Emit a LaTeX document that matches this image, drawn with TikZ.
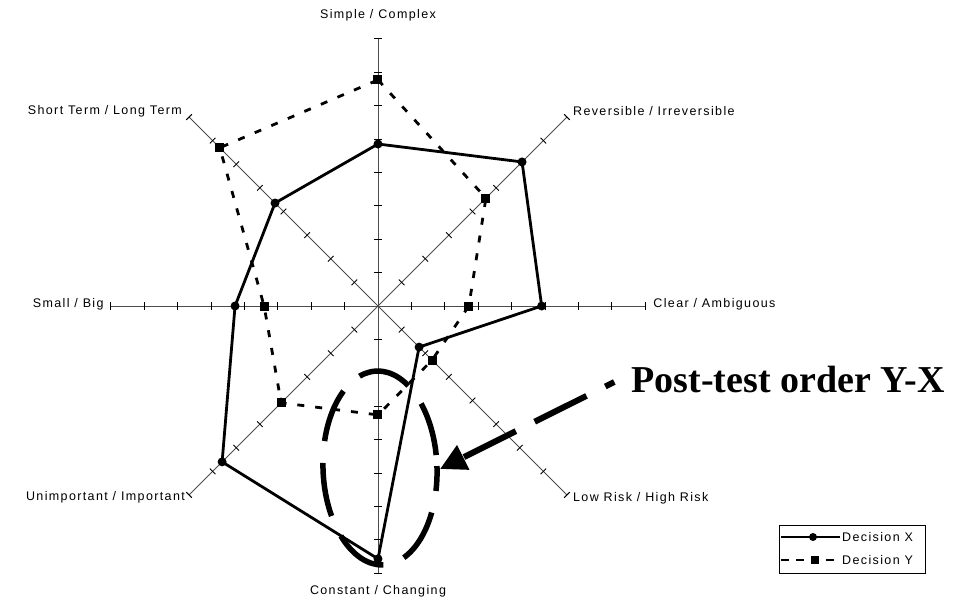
\documentclass[tikz,border=0pt]{standalone}
\usepackage{fontspec}
\setmainfont{Liberation Serif}
\setsansfont{Liberation Sans}[LetterSpace=11]
\usetikzlibrary{
	arrows.meta,
	positioning,
	calc,
}
\tikzset{every picture/.style={/utils/exec={\sffamily}}}
\newcommand{\rstep}{33.4}

\begin{document}
\begin{tikzpicture}[
		x=1pt, y=1pt,
		every node/.style={font=\fontsize{12.5}{15}\selectfont, inner sep=0pt},
		axis/.style = {line width=0.9pt, black!70},
		tick/.style = {line width=0.9pt, black},
		serieX/.style = {line width=2.8pt, line join=round},
		serieY/.style = {line width=2.8pt, dash pattern=on 7pt off 11pt},
		dotX/.style = {circle, fill, minimum size=9pt},
		dotY/.style = {rectangle, fill, minimum size=9pt},
		circled/.style = {line width=5.5pt, dash pattern=on 54pt off 22pt, dash phase=65pt},
		callout/.style = {line width=6pt, dash pattern=on 58pt off 21pt, dash phase=48pt,
			-{Triangle[length=26pt, width=26pt]}},
	]
	\useasboundingbox (-378,-297) rectangle (578,306);
	\coordinate (O) at (0,0);
	% axes and ticks
	\foreach \a [count=\i] in {90,45,0,-45,-90,-135,180,135} {
		\draw[axis] (O) -- (\a:8*\rstep) coordinate (E-\i);
		\foreach \k in {1,...,8}
			\draw[tick, rotate=\a] (\k*\rstep,-4) -- (\k*\rstep,4);
	}
	\node[anchor=base] (L-1) at ([yshift=20.5pt]E-1) {Simple / Complex};
	\node[anchor=base west] (L-2) at ([shift={(6pt,2pt)}]E-2) {Reversible / Irreversible};
	\node[anchor=base west] (L-3) at ([shift={(8pt,-1pt)}]E-3) {Clear / Ambiguous};
	\node[anchor=base west] (L-4) at ([shift={(6pt,-7pt)}]E-4) {Low Risk / High Risk};
	\node[anchor=base] (L-5) at ([yshift=-21pt]E-5) {Constant / Changing};
	\node[anchor=base east] (L-6) at ([shift={(-4pt,-6pt)}]E-6) {Unimportant / Important};
	\node[anchor=base east] (L-7) at ([shift={(-7pt,-1pt)}]E-7) {Small / Big};
	\node[anchor=base east] (L-8) at ([shift={(-7pt,3pt)}]E-8) {Short Term / Long Term};
	% data
	\foreach \a/\v [count=\i] in {90/4.85,45/6.1,0/4.9,-45/1.74,-90/7.57,-135/6.6,180/4.28,135/4.36}
		\coordinate (X-\i) at (\a:\v*\rstep);
	\foreach \a/\v [count=\i] in {90/6.77,45/4.57,0/2.72,-45/2.29,-90/3.26,-135/4.1,180/3.41,135/6.7}
		\coordinate (Y-\i) at (\a:\v*\rstep);
	\draw[serieY] (Y-1) -- (Y-2) -- (Y-3) -- (Y-4) -- (Y-5) -- (Y-6) -- (Y-7) -- (Y-8) -- cycle;
	\draw[serieX] (X-1) -- (X-2) -- (X-3) -- (X-4) -- (X-5) -- (X-6) -- (X-7) -- (X-8) -- cycle;
	\foreach \i in {1,...,8} {
		\node[dotY] (mY-\i) at (Y-\i) {};
		\node[dotX] (mX-\i) at (X-\i) {};
	}
	% legend
	\node[draw, line width=0.8pt, minimum width=146pt, minimum height=48pt] (legend) at (474,-243) {};
	\coordinate (kX-a) at (403,-231);
	\coordinate (kX-b) at (462,-231);
	\coordinate (kY-a) at (403,-254);
	\coordinate (kY-b) at (462,-254);
	\draw[serieX, line width=2pt] (kX-a) -- (kX-b);
	\draw[serieY, line width=2.4pt, dash pattern=on 8pt off 7pt] (kY-a) -- (kY-b);
	\node[dotX, minimum size=8pt] (kX) at (435,-231) {};
	\node[dotY, minimum size=8pt] (kY) at (437,-254) {};
	\node[anchor=base west] (tX) at (464,-235) {Decision X};
	\node[anchor=base west] (tY) at (464,-258) {Decision Y};
	% annotation
	\draw[circled, rotate around={2:(2,-162)}] (2,-162) ellipse [x radius=57, y radius=97];
	\node[font=\rmfamily\bfseries\fontsize{38}{44}\selectfont] (note) at (410,-73) {Post-test order Y-X};
	\coordinate (tail) at ([shift={(-17pt,-3pt)}]note.west);
	\coordinate (tip) at (62,-163);
	\draw[callout] (tail) -- (tip);   % <--- dashed pointer to the ellipse
\end{tikzpicture}
\end{document}
